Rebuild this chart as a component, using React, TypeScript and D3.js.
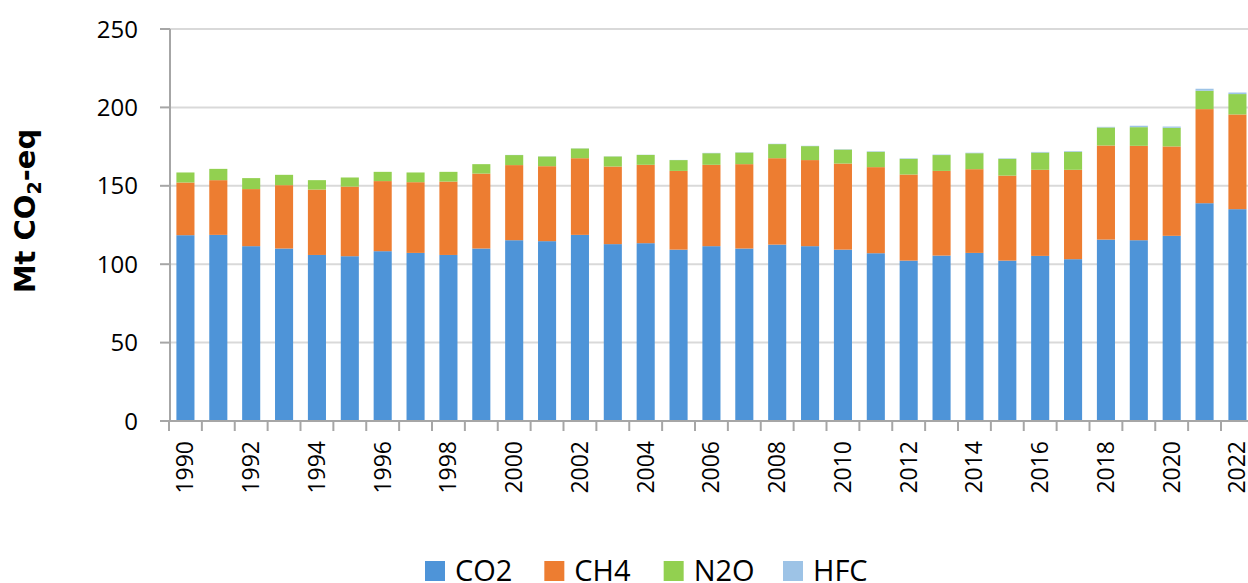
import * as d3 from "d3";
import { useEffect, useRef } from "react";

// categories (years) and stacked series, Mt CO2-eq
const years = [
  "1990", "1991", "1992", "1993", "1994", "1995", "1996", "1997", "1998", "1999",
  "2000", "2001", "2002", "2003", "2004", "2005", "2006", "2007", "2008", "2009",
  "2010", "2011", "2012", "2013", "2014", "2015", "2016", "2017", "2018", "2019",
  "2020", "2021", "2022",
];

const co2 = [
  118.5, 118.7, 111.5, 110.0, 105.9, 105.1, 108.3, 107.2, 105.9, 110.0,
  115.3, 114.7, 118.7, 112.8, 113.4, 109.3, 111.5, 110.0, 112.5, 111.5,
  109.3, 107.0, 102.3, 105.5, 107.2, 102.3, 105.3, 103.2, 115.7, 115.3,
  118.1, 138.9, 135.1,
];
const ch4 = [
  33.6, 34.9, 36.4, 40.4, 41.7, 44.4, 44.7, 45.1, 46.8, 47.8,
  47.9, 47.8, 48.9, 49.5, 50.0, 50.2, 51.9, 53.8, 55.1, 54.9,
  54.9, 54.9, 54.9, 54.0, 53.4, 54.2, 54.9, 57.0, 60.0, 60.2,
  57.0, 60.0, 60.4,
];
const n2o = [
  6.4, 7.2, 7.0, 6.6, 6.0, 5.8, 5.9, 6.2, 6.2, 6.0,
  6.4, 6.2, 6.2, 6.4, 6.3, 6.9, 7.4, 7.4, 9.0, 8.9,
  8.9, 9.8, 10.0, 10.1, 10.2, 10.7, 11.0, 11.5, 11.5, 11.9,
  11.9, 11.7, 13.0,
];
const hfc = [
  0, 0, 0, 0, 0, 0, 0, 0, 0, 0,
  0.1, 0.1, 0.1, 0.1, 0.1, 0.1, 0.2, 0.2, 0.2, 0.2,
  0.2, 0.3, 0.3, 0.3, 0.3, 0.3, 0.4, 0.4, 0.4, 0.9,
  0.8, 1.3, 1.0,
];

const seriesNames = ["CO2", "CH4", "N2O", "HFC"];
const seriesColors = ["#4e94d8", "#ed7d31", "#92d050", "#9dc3e6"];
const yTicks = [0, 50, 100, 150, 200, 250];

const FONT = "'Open Sans', 'DejaVu Sans', sans-serif";

export default function App() {
  const ref = useRef<SVGSVGElement>(null);

  useEffect(() => {
    const width = 1248;
    const svg = d3.select(ref.current);
    svg.selectAll("*").remove();

    const left = 169;
    const top = 29;
    const bottom = 421;
    const bandW = 32.875;

    const x = d3.scaleBand<string>()
      .domain(years)
      .range([left, left + bandW * years.length])
      .paddingInner(0.45)
      .paddingOuter(0.225);

    const y = d3.scaleLinear().domain([0, 250]).range([bottom, top]);

    const table = years.map((yr, i) => ({
      year: yr,
      CO2: co2[i],
      CH4: ch4[i],
      N2O: n2o[i],
      HFC: hfc[i],
    }));
    const stacked = d3.stack<any>().keys(seriesNames)(table);
    const color = d3.scaleOrdinal<string, string>().domain(seriesNames).range(seriesColors);

    // gridlines
    svg.append("g")
      .selectAll("line")
      .data(yTicks.filter(t => t > 0))
      .enter()
      .append("line")
      .attr("x1", left)
      .attr("x2", width)
      .attr("y1", d => y(d))
      .attr("y2", d => y(d))
      .attr("stroke", "#d9d9d9")
      .attr("stroke-width", 2);

    // bars
    svg.append("g")
      .selectAll("g")
      .data(stacked)
      .enter()
      .append("g")
      .attr("fill", d => color(d.key))
      .selectAll("rect")
      .data(d => d)
      .enter()
      .append("rect")
      .attr("x", d => x(d.data.year) as number)
      .attr("width", x.bandwidth())
      .attr("y", d => y(d[1]))
      .attr("height", d => Math.max(0, y(d[0]) - y(d[1])));

    // y axis
    const yAxis = svg.append("g");
    yAxis.append("line")
      .attr("x1", left + 1).attr("x2", left + 1)
      .attr("y1", top).attr("y2", bottom)
      .attr("stroke", "#a6a6a6").attr("stroke-width", 2);
    yAxis.selectAll("line.tick")
      .data(yTicks)
      .enter()
      .append("line")
      .attr("class", "tick")
      .attr("x1", left - 9).attr("x2", left + 1)
      .attr("y1", d => y(d)).attr("y2", d => y(d))
      .attr("stroke", "#a6a6a6").attr("stroke-width", 2);
    yAxis.selectAll("text")
      .data(yTicks)
      .enter()
      .append("text")
      .attr("x", 138)
      .attr("y", d => y(d))
      .attr("dy", "0.36em")
      .attr("text-anchor", "end")
      .attr("font-family", FONT)
      .attr("font-size", 24)
      .attr("fill", "#000")
      .text(d => d);

    // x axis
    const xAxis = svg.append("g");
    xAxis.append("line")
      .attr("x1", left).attr("x2", width)
      .attr("y1", bottom).attr("y2", bottom)
      .attr("stroke", "#a6a6a6").attr("stroke-width", 2);
    const boundaries = years.map((_, i) => left + bandW * i);
    xAxis.selectAll("line.tick")
      .data(boundaries)
      .enter()
      .append("line")
      .attr("class", "tick")
      .attr("x1", d => d).attr("x2", d => d)
      .attr("y1", bottom).attr("y2", bottom + 10)
      .attr("stroke", "#a6a6a6").attr("stroke-width", 2);
    xAxis.selectAll("text")
      .data(years.filter((_, i) => i % 2 === 0))
      .enter()
      .append("text")
      .attr("transform", d => `translate(${(x(d) as number) + x.bandwidth() / 2 + 8},${bottom + 20}) rotate(-90)`)
      .attr("text-anchor", "end")
      .attr("font-family", FONT)
      .attr("font-size", 23)
      .attr("fill", "#000")
      .text(d => d);

    // y axis title
    const title = svg.append("text")
      .attr("transform", `translate(35,211) rotate(-90)`)
      .attr("text-anchor", "middle")
      .attr("font-family", "'DejaVu Sans', sans-serif")
      .attr("font-weight", "bold")
      .attr("font-size", 29)
      .attr("fill", "#000");
    title.append("tspan").text("Mt CO");
    title.append("tspan").attr("font-size", 19).attr("dy", 6).text("2");
    title.append("tspan").attr("dy", -6).text("-eq");

    // legend
    const lx = d3.scalePoint<string>().domain(seriesNames).range([425, 783]);
    const legend = svg.append("g")
      .selectAll("g")
      .data(seriesNames)
      .enter()
      .append("g")
      .attr("transform", d => `translate(${lx(d)},561)`);
    legend.append("rect")
      .attr("width", 20)
      .attr("height", 20)
      .attr("fill", d => color(d));
    legend.append("text")
      .attr("x", 30)
      .attr("y", 20)
      .attr("font-family", FONT)
      .attr("font-size", 29)
      .attr("fill", "#000")
      .text(d => d);
  }, []);

  return (
    <svg
      ref={ref}
      width={1248}
      height={583}
      style={{ position: "absolute", left: 0, top: 0, background: "#fff" }}
    />
  );
}
